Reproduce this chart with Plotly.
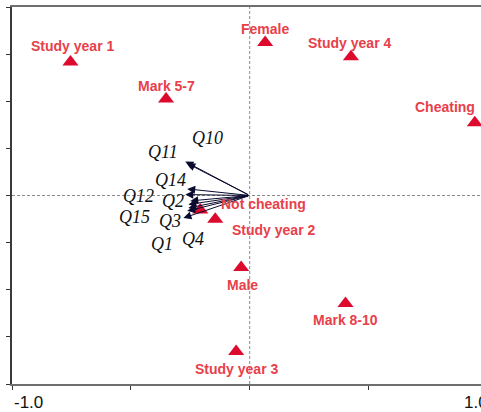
import plotly.graph_objects as go

# Category centroids (ordination scores)
categories = ["Study year 1", "Mark 5-7", "Female", "Study year 4", "Cheating",
              "Not cheating", "Study year 2", "Male", "Mark 8-10", "Study year 3"]
cat_x = [-0.754, -0.352, 0.065, 0.426, 0.947, -0.208, -0.145, -0.036, 0.403, -0.057]
cat_y = [0.567, 0.410, 0.649, 0.589, 0.309, -0.062, -0.101, -0.306, -0.458, -0.662]

# Question vectors (arrow tips)
questions = ["Q10", "Q11", "Q14", "Q12", "Q2", "Q15", "Q1", "Q4", "Q3"]
q_x = [-0.271, -0.263, -0.263, -0.271, -0.250, -0.258, -0.258, -0.263, -0.279]
q_y = [0.144, 0.136, 0.028, 0.004, -0.023, -0.038, -0.053, -0.066, -0.096]

x_ticks = [-1.0, -0.5, 0.0, 0.5]
y_ticks = [-0.8, -0.6, -0.4, -0.2, 0.0, 0.2, 0.4, 0.6, 0.8]

# label placement (pixel offsets from each mark)
cat_shift = {
    "Study year 1": (2, 16), "Mark 5-7": (0, 13), "Female": (0, 14),
    "Study year 4": (-1, 14), "Cheating": (-30, 16), "Not cheating": (63, 6),
    "Study year 2": (58, -11), "Male": (1, -17.5), "Mark 8-10": (0, -17),
    "Study year 3": (0, -17.5),
}
q_shift = {
    "Q10": (22, 23.5), "Q11": (-24, 11.5), "Q14": (-17, 9), "Q12": (-47, -1.5),
    "Q2": (-17, -0.5), "Q15": (-54, -12.5), "Q1": (-26, -36), "Q4": (6, -28),
    "Q3": (-13, -2.5),
}

RED = "#dd0a2e"
LABEL_RED = "#e8404a"
AXIS_FONT = dict(family="Liberation Sans, Arial, sans-serif", size=17, color="#111111")

fig = go.Figure()

# dashed reference lines through the origin
fig.add_shape(type="line", x0=0, x1=0, y0=-0.8, y1=0.8, xref="x", yref="y",
              line=dict(color="#8a8a8a", width=1, dash="3px,2px"), layer="below")
fig.add_shape(type="line", x0=-1.0, x1=1.0, y0=0, y1=0, xref="x", yref="y",
              line=dict(color="#8a8a8a", width=1, dash="3px,2px"), layer="below")

fig.add_trace(go.Scatter(
    x=cat_x, y=cat_y, mode="markers",
    marker=dict(symbol="triangle-up", size=14, color=RED, line=dict(width=0)),
    hoverinfo="text", text=categories, showlegend=False,
))

annotations = []
for name, x, y in zip(questions, q_x, q_y):
    annotations.append(dict(
        x=x, y=y, ax=0, ay=0, xref="x", yref="y", axref="x", ayref="y",
        text="", showarrow=True, arrowhead=2, arrowsize=1.6, arrowwidth=1,
        arrowcolor="#0b0b30", standoff=0, startstandoff=0,
    ))
    dx, dy = q_shift[name]
    annotations.append(dict(
        x=x, y=y, xref="x", yref="y", text=f"<i>{name}</i>", showarrow=False,
        xshift=dx, yshift=dy,
        font=dict(family="Liberation Serif, Times New Roman, serif", size=18, color="#111111"),
    ))

for name, x, y in zip(categories, cat_x, cat_y):
    dx, dy = cat_shift[name]
    annotations.append(dict(
        x=x, y=y, xref="x", yref="y", text=f"<b>{name}</b>", showarrow=False,
        xshift=dx, yshift=dy,
        font=dict(family="Liberation Sans, Arial, sans-serif", size=14, color=LABEL_RED),
    ))

# end labels of the horizontal axis
annotations.append(dict(x=0, y=0, xref="paper", yref="paper", text="-1.0", showarrow=False,
                        xanchor="left", yanchor="middle", yshift=-18, font=AXIS_FONT))
annotations.append(dict(x=1, y=0, xref="paper", yref="paper", text="1.0", showarrow=False,
                        xanchor="left", yanchor="middle", yshift=-18, xshift=-19, font=AXIS_FONT))

fig.update_layout(
    width=481, height=412,
    margin=dict(l=12, r=0, t=7, b=28),
    paper_bgcolor="white", plot_bgcolor="white",
    annotations=annotations,
    xaxis=dict(range=[-1.0, 0.973], tickvals=x_ticks, ticktext=[""] * len(x_ticks),
               ticks="outside", ticklen=4, tickcolor="#333333", tickwidth=1,
               showline=True, linecolor="#6e6e6e", linewidth=2, mirror=True,
               showgrid=False, zeroline=False, fixedrange=True),
    yaxis=dict(range=[-0.8, 0.8], tickvals=y_ticks, ticktext=[""] * len(y_ticks),
               ticks="outside", ticklen=4, tickcolor="#333333", tickwidth=1,
               showline=True, linecolor="#3a3a3a", linewidth=1.5,
               showgrid=False, zeroline=False, fixedrange=True),
)

fig.write_html("out.html")
